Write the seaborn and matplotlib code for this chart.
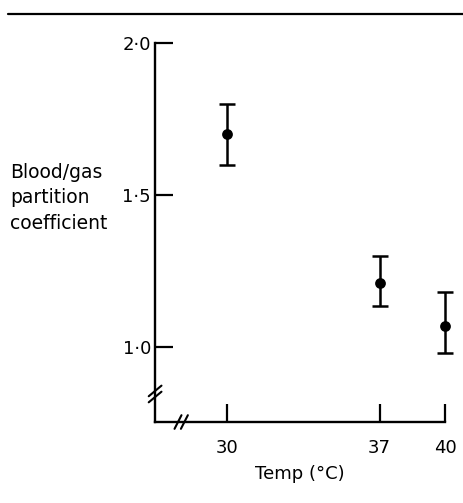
import matplotlib
matplotlib.use("Agg")
import matplotlib.pyplot as plt
from matplotlib.lines import Line2D
import seaborn as sns
import pandas as pd
import numpy as np

# Data
temps = [30, 37, 40]
coef = [1.70, 1.21, 1.07]
err_low = [1.60, 1.135, 0.98]
err_high = [1.80, 1.30, 1.18]
xticks = [30, 37, 40]
yticks = [1.0, 1.5, 2.0]
ytick_labels = ["1\u00b70", "1\u00b75", "2\u00b70"]

sns.set_theme(style="ticks")
plt.rcParams['font.family'] = ['DejaVu Sans']
plt.rcParams['text.color'] = 'black'
plt.rcParams['axes.labelcolor'] = 'black'
plt.rcParams['xtick.color'] = 'black'
plt.rcParams['ytick.color'] = 'black'

fig = plt.figure(figsize=(4.63, 5.03), dpi=100)
ax = fig.add_axes([0.335, 0.161, 0.626, 0.7535])

df = pd.DataFrame({"Temp": temps, "coef": coef})
yerr = np.array([[c - lo for c, lo in zip(coef, err_low)],
                 [hi - c for c, hi in zip(coef, err_high)]])
ax.errorbar(temps, coef, yerr=yerr, fmt="none", ecolor="black",
            elinewidth=1.8, capsize=6, capthick=1.8, clip_on=False, zorder=3)
sns.scatterplot(data=df, x="Temp", y="coef", ax=ax, color="black", s=60,
                edgecolor="black", linewidth=0, clip_on=False, zorder=4, legend=False)

ax.set_xlim(26.7, 40)
ax.set_ylim(0.753, 2.0)
ax.set_xticks(xticks)
ax.set_xticklabels([str(t) for t in xticks], fontsize=13)
ax.set_yticks(yticks)
ax.set_yticklabels(ytick_labels, fontsize=13)
ax.tick_params(direction="in", length=13, width=1.6, color="black", pad=4)
ax.tick_params(axis="x", pad=12)
ax.tick_params(axis="y", pad=3)
for s in ["top", "right"]:
    ax.spines[s].set_visible(False)
for s in ["left", "bottom"]:
    ax.spines[s].set_linewidth(1.7)
    ax.spines[s].set_color("black")

ax.set_xlabel("Temp (\u00b0C)", fontsize=13, labelpad=6, fontweight="medium")
ax.set_ylabel("")

# axis break marks
tr = ax.transAxes
for dy in (0.0, 0.016):
    ax.plot([-0.022, 0.022], [0.066 + dy - 0.014, 0.066 + dy + 0.014],
            transform=tr, color="black", lw=1.5, clip_on=False)
for dx in (0.0, 0.022):
    ax.plot([0.079 + dx - 0.012, 0.079 + dx + 0.012], [-0.018, 0.018],
            transform=tr, color="black", lw=1.5, clip_on=False)

fig.text(10 / 463, 1 - 198 / 503, "Blood/gas\npartition\ncoefficient",
         ha="left", va="center", fontsize=13.5, linespacing=1.45)

fig.add_artist(Line2D([8 / 463, 1.0], [1 - 14 / 503, 1 - 14 / 503],
                      transform=fig.transFigure, color="black", lw=1.6))

fig.savefig("out.png", dpi=100)
